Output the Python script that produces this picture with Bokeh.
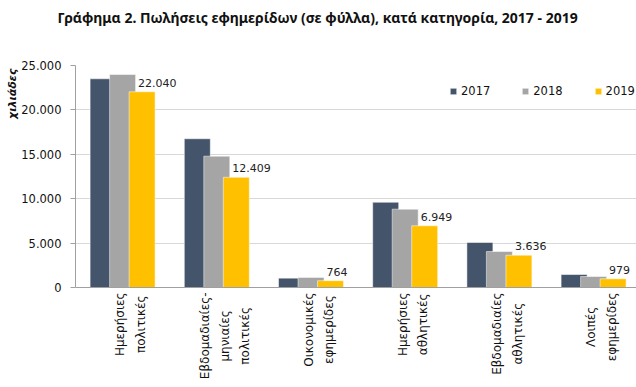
import math
from bokeh.plotting import figure
from bokeh.models import (Range1d, FixedTicker, Legend, LegendItem, Title,
                          ColumnDataSource, CustomJSTickFormatter, Span)
from bokeh.core.properties import value
from bokeh.embed import file_html
from bokeh.resources import INLINE

categories = ["Ημερήσιες\nπολιτικές", "Εβδομαδιαίες-\nμηνιαίες\nπολιτικές",
              "Οικονομικές\nεφημερίδες", "Ημερήσιες\nαθλητικές",
              "Εβδομαδιαίες\nαθλητικές", "Λοιπές\nεφημερίδες"]
years = ["2017", "2018", "2019"]
sales_2017 = [23500, 16750, 1050, 9600, 5070, 1460]
sales_2018 = [23990, 14790, 1130, 8820, 4050, 1240]
sales_2019 = [22040, 12409, 764, 6949, 3636, 979]
labels_2019 = ["22.040", "12.409", "764", "6.949", "3.636", "979"]
y_ticks = [0, 5000, 10000, 15000, 20000, 25000]
y_max = 25000

colors = ["#44546A", "#A5A5A5", "#FFC000"]
FONT = "DejaVu Sans"

W, H = 636, 387
px_per_unit = 222 / y_max
p = figure(width=W, height=H, output_backend="svg", toolbar_location=None,
           title=None,
           x_range=Range1d(0, 561 / 94.2),
           y_range=Range1d(-100 / px_per_unit, y_max),
           min_border_left=75, min_border_right=0, min_border_top=65,
           min_border_bottom=0)
p.outline_line_color = None
p.background_fill_color = "white"
p.border_fill_color = "white"

centers = [i + 0.5 for i in range(len(categories))]
step = 19.5 / 94.2
bw = 26 / 94.2
series = [sales_2017, sales_2018, sales_2019]
renderers = []
for k, (vals, col) in enumerate(zip(series, colors)):
    xs = [c + (k - 1) * step for c in centers]
    src = ColumnDataSource(dict(x=xs, top=vals))
    r = p.vbar(x="x", top="top", width=bw, bottom=0, source=src,
               fill_color=col, line_color="white", line_alpha=0.5, line_width=1)
    renderers.append(r)

# data labels on 2019
src_lab = ColumnDataSource(dict(x=[c + step for c in centers], y=sales_2019, t=labels_2019))
p.text(x="x", y="y", text="t", source=src_lab, text_font=value(FONT),
       text_font_size="11px", text_color="#222222", text_align="left",
       text_baseline="alphabetic", x_offset=-4, y_offset=-9)

# x axis line and category labels
p.add_layout(Span(location=0, dimension="width", line_color="#a0a0a0", line_width=1))
src_cat = ColumnDataSource(dict(x=centers, y=[0] * len(centers), t=categories))
p.text(x="x", y="y", text="t", source=src_cat, angle=math.pi / 2,
       anchor="center_right", text_align="center", x_offset=8, y_offset=5,
       text_font=value(FONT), text_font_size="12px", text_color="#111111",
       text_line_height=1.45)
p.xaxis.visible = False

# y axis
p.yaxis.ticker = FixedTicker(ticks=y_ticks)
p.yaxis.bounds = (0, y_max)
p.yaxis.formatter = CustomJSTickFormatter(code="return tick.toLocaleString('de-DE');")
p.yaxis.axis_line_color = "#a0a0a0"
p.yaxis.major_tick_line_color = "#a0a0a0"
p.yaxis.major_tick_out = 5
p.yaxis.major_tick_in = 0
p.yaxis.minor_tick_line_color = None
p.yaxis.major_label_text_font = FONT
p.yaxis.major_label_text_font_size = "11.5px"
p.yaxis.major_label_text_color = "#111111"
p.yaxis.major_label_standoff = 9

p.xgrid.grid_line_color = None
p.ygrid.grid_line_color = "#b0b0b0"
p.ygrid.grid_line_dash = "1 1"
p.ygrid.grid_line_width = 1

# legend
legend = Legend(items=[LegendItem(label=y, renderers=[r]) for y, r in zip(years, renderers)],
                orientation="horizontal", location=(374, 289),
                glyph_width=8, glyph_height=8, label_standoff=4, spacing=31,
                padding=0, margin=0, border_line_color=None,
                background_fill_alpha=0,
                label_text_font=FONT, label_text_font_size="11.5px",
                label_text_color="#111111")
p.add_layout(legend)

# spacer between frame and title, then the title itself
spacer = Title(text=" ", text_font_size="10px", standoff=24, vertical_align="top")
p.add_layout(spacer, "above")
main_title = Title(text="Γράφημα 2. Πωλήσεις εφημερίδων (σε φύλλα), κατά κατηγορία, 2017 - 2019",
                   align="left", offset=-18, standoff=0, vertical_align="top",
                   text_font="Noto Sans", text_font_size="14px", text_font_style="bold",
                   text_color="#111111")
p.add_layout(main_title, "above")

# y axis label as a left-side title
ytitle = Title(text="χιλιάδες", align="right", offset=3, standoff=0,
               text_font=FONT, text_font_size="11px", text_font_style="bold italic",
               text_color="#111111")
p.add_layout(ytitle, "left")

open("out.html", "w").write(file_html(p, INLINE))
